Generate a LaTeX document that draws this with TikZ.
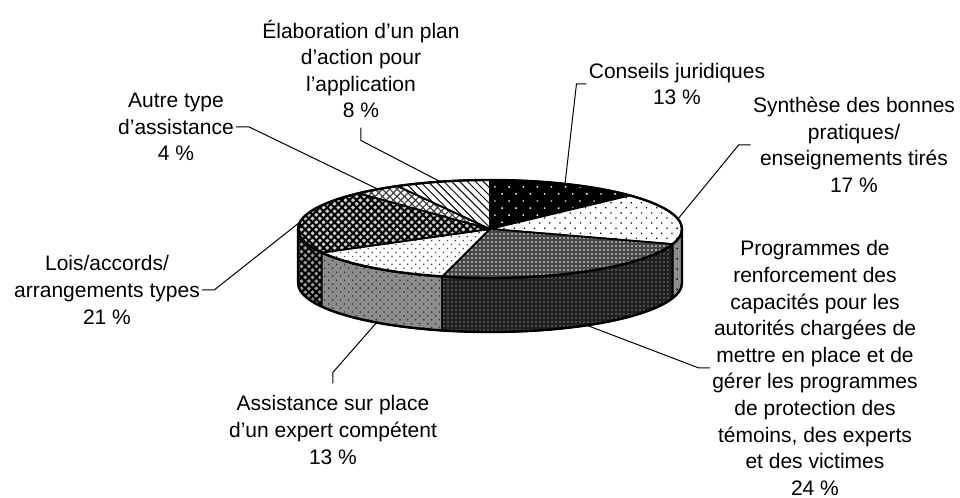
\documentclass[tikz,border=0pt]{standalone}
\usepackage{fontspec}
\setmainfont{Liberation Sans}
\usetikzlibrary{patterns.meta}

% pie geometry
\newcommand{\piex}{96pt}
\newcommand{\piey}{24.5pt}
\newcommand{\piexy}{96pt and 24.5pt}
\newcommand{\pied}{27pt}
\newcommand{\sideface}[3]{\path[#1] (#2:\piexy) arc[start angle=#2, end angle=#3, x radius=\piex, y radius=\piey] -- ++(0,-\pied) arc[start angle=#3, end angle=#2, x radius=\piex, y radius=\piey] -- cycle;}
\newcommand{\topface}[3]{\path[#1] (0,0) -- (#2:\piexy) arc[start angle=#2, end angle=#3, x radius=\piex, y radius=\piey] -- cycle;}

\tikzset{
  slice/.style={draw=black, line width=0.9pt, line join=round},
  rim/.style={draw=black, line width=1.2pt},
  leader/.style={draw=black, line width=0.5pt},
  lbl/.style={align=center, inner sep=1pt, font=\fontsize{10.5}{13.3}\selectfont},
  conseilstop/.style={preaction={fill=black}, preaction={pattern={Dots[distance=5pt, angle=45, radius=0.5pt]}, pattern color=white}, slice},
  synthtop/.style={preaction={fill=white}, preaction={pattern={Dots[distance=3.6pt, angle=45, radius=0.45pt]}, pattern color=black}, slice},
  synthside/.style={preaction={fill=black!45}, preaction={pattern={Dots[distance=3.6pt, angle=45, radius=0.45pt]}, pattern color=black}, slice},
  progtop/.style={preaction={fill=black!72}, preaction={pattern={Dots[distance=2pt, radius=0.45pt]}, pattern color=white}, slice},
  progside/.style={preaction={fill=black!88}, preaction={pattern={Dots[distance=2pt, radius=0.45pt]}, pattern color=gray}, slice},
  assisttop/.style={preaction={fill=white}, preaction={pattern={Dots[distance=2.8pt, angle=45, radius=0.45pt]}, pattern color=black!75}, slice},
  assistside/.style={preaction={fill=black!45}, preaction={pattern={Dots[distance=2.8pt, angle=45, radius=0.45pt]}, pattern color=black!85}, slice},
  loistop/.style={preaction={fill=black!20}, preaction={pattern={Hatch[distance=2.6pt, angle=45, line width=1pt]}, pattern color=black}, slice},
  loisside/.style={preaction={fill=black!40}, preaction={pattern={Hatch[distance=2.6pt, angle=45, line width=1pt]}, pattern color=black}, slice},
  autretop/.style={preaction={fill=white}, preaction={pattern={Hatch[distance=2.6pt, angle=45, line width=0.6pt]}, pattern color=black!75}, slice},
  elabtop/.style={preaction={fill=white}, preaction={pattern={Lines[distance=2.8pt, angle=-45, line width=0.5pt]}, pattern color=black}, slice}
}

\begin{document}
\begin{tikzpicture}[x=0.5pt, y=0.5pt]
  \useasboundingbox (-490,-269) rectangle (470,229);

  % Side faces
  \sideface{loisside}{180}{208.8}
  \sideface{assistside}{208.8}{255.6}
  \sideface{progside}{255.6}{342}
  \sideface{synthside}{342}{360}

  % Top faces
  \topface{conseilstop}{43.2}{90}
  \topface{synthtop}{-18}{43.2}
  \topface{progtop}{-104.4}{-18}
  \topface{assisttop}{-151.2}{-104.4}
  \topface{loistop}{133.2}{208.8}
  \topface{autretop}{118.8}{133.2}
  \topface{elabtop}{90}{118.8}

  % Outline
  \draw[rim] (180:\piexy) -- ++(0,-\pied) arc[start angle=180, end angle=360, x radius=\piex, y radius=\piey] -- ++(0,\pied);
  \draw[rim] (0,0) ellipse[x radius=\piex, y radius=\piey];

  % Rim points
  \coordinate (elabrim) at (105:\piexy);
  \coordinate (autrerim) at (125.7:\piexy);
  \coordinate (conseilsrim) at (67:\piexy);
  \coordinate (synthrim) at (11.8:\piexy);
  \coordinate (loisrim) at (172:\piexy);
  \coordinate (progrim) at ([yshift=-\pied]300.3:\piexy);
  \coordinate (assistrim) at ([yshift=-\pied]233.8:\piexy);

  % Labels
  \node[lbl] (elab) at (-129,160) {Élaboration d’un plan\\d’action pour\\l’application\\8 \%};
  \node[lbl] (autre) at (-314,102) {Autre type\\d’assistance\\4 \%};
  \node[lbl] (conseils) at (187,145) {Conseils juridiques\\13 \%};
  \node[lbl] (synth) at (364,84) {Synthèse des bonnes\\pratiques/\\enseignements tirés\\17 \%};
  \node[lbl] (prog) at (325,-139) {Programmes de\\renforcement des\\capacités pour les\\autorités chargées de\\mettre en place et de\\gérer les programmes\\de protection des\\témoins, des experts\\et des victimes\\24 \%};
  \node[lbl] (assist) at (-157,-201) {Assistance sur place\\d’un expert compétent\\13 \%};
  \node[lbl] (lois) at (-383,-61) {Lois/accords/\\arrangements types\\21 \%};

  % Leader lines
  \draw[leader] ([yshift=-3.5pt]elab.south) -- ++(0,-13) -- (elabrim);
  \draw[leader] (autre.east) -- ++(13,0) -- (autrerim);
  \draw[leader] (conseils.west) -- ++(-10,0) -- (conseilsrim);
  \draw[leader] (synth.west) -- ++(-12,0) -- (synthrim);
  \draw[leader] (prog.west) -- ++(-11,0) -- (progrim);
  \draw[leader] ([yshift=5pt]assist.north) -- ++(0,11) -- (assistrim);
  \draw[leader] (lois.east) -- ++(12,0) -- (loisrim);
\end{tikzpicture}
\end{document}
